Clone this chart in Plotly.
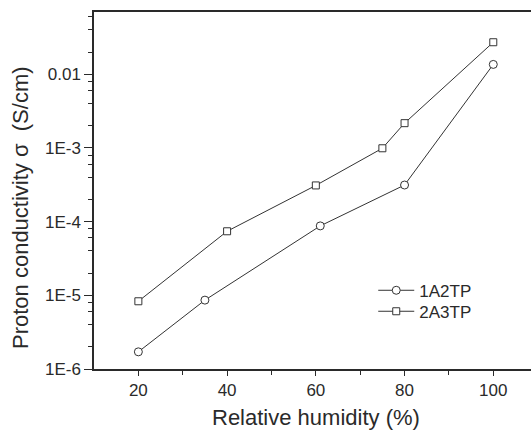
import plotly.graph_objects as go

# Data
rh_1a2tp = [20, 35, 61, 80, 100]
sigma_1a2tp = [1.71e-6, 8.6e-6, 8.75e-5, 3.14e-4, 0.0136]

rh_2a3tp = [20, 40, 60, 75, 80, 100]
sigma_2a3tp = [8.3e-6, 7.4e-5, 3.1e-4, 9.9e-4, 2.17e-3, 0.0272]

y_tick_vals = [1e-6, 1e-5, 1e-4, 1e-3, 1e-2]
y_tick_text = ["1E-6", "1E-5", "1E-4", "1E-3", "0.01"]
x_tick_vals = [20, 40, 60, 80, 100]
x_minor_vals = [30, 50, 70, 90]
y_minor_mult = [2, 4, 6, 8]
decades = [1e-6, 1e-5, 1e-4, 1e-3, 1e-2]

y_minor_vals = [d * m for d in decades for m in y_minor_mult]

x_title = "Relative humidity (%)"
y_title = "Proton conductivity σ  (S/cm)"

FONT = "Liberation Sans, Arial, sans-serif"
INK = "#2a2a2a"

fig = go.Figure()
fig.add_trace(go.Scatter(
    x=rh_1a2tp, y=sigma_1a2tp, name="1A2TP", mode="lines+markers",
    line=dict(color="#333333", width=1),
    marker=dict(symbol="circle", size=8, color="white",
                line=dict(color="#333333", width=1)),
    legend="legend",
))
fig.add_trace(go.Scatter(
    x=rh_2a3tp, y=sigma_2a3tp, name="2A3TP", mode="lines+markers",
    line=dict(color="#333333", width=1),
    marker=dict(symbol="square", size=7, color="white",
                line=dict(color="#333333", width=1)),
    legend="legend2",
))

leg_common = dict(xanchor="left", yanchor="top", bgcolor="rgba(0,0,0,0)",
                  font=dict(size=17, color=INK), itemwidth=36)

fig.update_layout(
    width=531, height=434,
    margin=dict(l=94, r=0, t=12, b=65),
    paper_bgcolor="white", plot_bgcolor="white",
    font=dict(family=FONT, size=17, color=INK),
    showlegend=True,
    legend=dict(x=0.639, y=0.2697, **leg_common),
    legend2=dict(x=0.639, y=0.2109, **leg_common),
    annotations=[
        dict(text=x_title, xref="paper", yref="paper", x=0.508, y=-0.1345,
             xanchor="center", yanchor="middle", showarrow=False,
             font=dict(size=22, color=INK, family=FONT)),
        dict(text=y_title, xref="paper", yref="paper", x=-0.167, y=0.451,
             xanchor="center", yanchor="middle", showarrow=False, textangle=-90,
             font=dict(size=22, color=INK, family=FONT)),
    ],
)

fig.update_xaxes(
    range=[10, 108.5],
    tickmode="array", tickvals=x_tick_vals,
    ticks="outside", ticklen=5, tickwidth=1.2, tickcolor=INK,
    minor=dict(tickmode="array", tickvals=x_minor_vals, ticks="outside",
               ticklen=4, tickwidth=1.2, tickcolor=INK, showgrid=False),
    showline=True, linecolor=INK, linewidth=1.5, mirror=True,
    showgrid=False, zeroline=False,
    tickfont=dict(size=17, color=INK),
)
fig.update_yaxes(
    type="log", range=[-6, -1.155],
    tickmode="array", tickvals=y_tick_vals, ticktext=y_tick_text,
    ticks="outside", ticklen=8, tickwidth=1.2, tickcolor=INK,
    minor=dict(tickmode="array", tickvals=y_minor_vals, ticks="outside",
               ticklen=4, tickwidth=1.2, tickcolor=INK, showgrid=False),
    showline=True, linecolor=INK, linewidth=1.5,
    showgrid=False, zeroline=False,
    tickfont=dict(size=17, color=INK),
)

fig.write_html("out.html", config={"displayModeBar": False},
               post_script="document.body.style.margin='0';")
